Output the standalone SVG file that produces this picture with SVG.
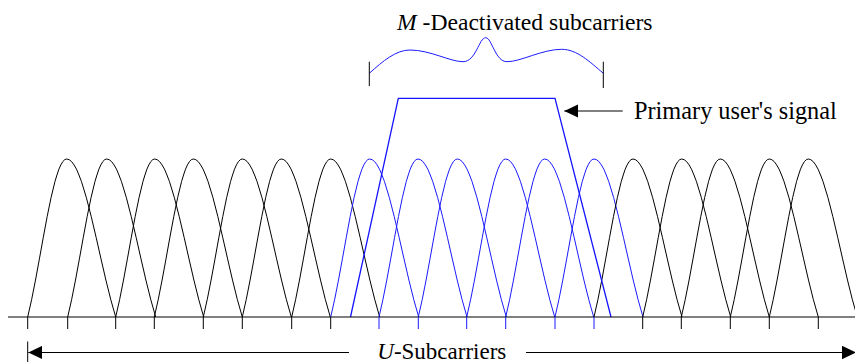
<svg xmlns="http://www.w3.org/2000/svg" width="855" height="363" viewBox="0 0 855 363">
<style>
.blk{fill:none;stroke:#000;stroke-width:1}
.blu{fill:none;stroke:#1a1aff;stroke-width:1}
.sig{fill:none;stroke:#1414ff;stroke-width:1.3}
.lbl{font-family:"Liberation Serif","Times New Roman",serif;font-size:23px;fill:#000}
.arr{fill:none;stroke:#000;stroke-width:1.2}
</style>
<defs>
<path id="lobe" d="M0,0 L3.9,-17.27 L7.8,-36.95 L11.7,-58.12 L15.6,-79.72 L19.5,-100.59 L23.4,-119.58 L27.3,-135.63 L29.25,-142 L31.2,-147.81 L33.15,-152.1 L35.1,-155.41 L37.05,-157.35 L39,-158 L41.45,-157.35 L43.9,-155.41 L46.35,-152.1 L48.8,-147.81 L51.25,-142 L53.7,-135.63 L58.6,-119.58 L63.5,-100.59 L68.4,-79.72 L73.3,-58.12 L78.2,-36.95 L83.1,-17.27 L88,0"/>
<marker id="ah" markerUnits="userSpaceOnUse" markerWidth="14" markerHeight="14" refX="14" refY="6.75" orient="auto" viewBox="0 0 14 13.5">
<path d="M0,0 L14,6.75 L0,13.5 z" fill="#000"/>
</marker>
</defs>
<g id="subcarriers-black-left" class="blk">
<use href="#lobe" x="27.7" y="317"/>
<use href="#lobe" x="67.7" y="317"/>
<use href="#lobe" x="115.7" y="317"/>
<use href="#lobe" x="154.3" y="317"/>
<use href="#lobe" x="203.3" y="317"/>
<use href="#lobe" x="242.3" y="317"/>
<use href="#lobe" x="291.7" y="317"/>
</g>
<g id="subcarriers-deactivated" class="blu">
<use href="#lobe" x="330.7" y="317"/>
<use href="#lobe" x="379" y="317"/>
<use href="#lobe" x="418.3" y="317"/>
<use href="#lobe" x="466.7" y="317"/>
<use href="#lobe" x="505.7" y="317"/>
<use href="#lobe" x="555" y="317"/>
</g>
<g id="subcarriers-black-right" class="blk">
<use href="#lobe" x="594" y="317"/>
<use href="#lobe" x="642.7" y="317"/>
<use href="#lobe" x="681.3" y="317"/>
<use href="#lobe" x="730.3" y="317"/>
<use href="#lobe" x="769.3" y="317"/>
</g>
<g id="primary-signal">
<path class="sig" d="M350.5,317 L398.3,98.3 L555,98.3 L611,317"/>
</g>
<g id="axis" class="blk">
<line x1="8" y1="317" x2="855" y2="317"/>
<path d="M27.7,317V329 M67.7,317V329 M115.7,317V329 M154.3,317V329 M203.3,317V329 M242.3,317V329 M291.7,317V329 M330.7,317V329 M642.7,317V329 M681.3,317V329 M730.3,317V329 M769.3,317V329 M818.3,317V329"/>
<path class="blu" d="M379,317V329 M418.3,317V329 M466.7,317V329 M505.7,317V329 M555,317V329 M594,317V329"/>
</g>
<g id="brace">
<path class="blu" d="M369.3,73.3 C383,61 396,50 410,50 C430,50 450,61.7 463,61.7 C476,61.7 479,37.7 485.7,37.7 C492,37.7 495,61.7 507,61.7 C521,61.7 542,49.3 561.7,49.3 C577,49.3 590,62 603.3,73.3"/>
<path class="blk" d="M369.3,61.7V86 M603.3,61.7V88"/>
</g>
<g id="connectors">
<line class="arr" x1="622.7" y1="111" x2="564.3" y2="111" marker-end="url(#ah)"/>
<line class="arr" x1="349" y1="352.5" x2="28.3" y2="352.5" marker-end="url(#ah)"/>
<line class="arr" x1="526" y1="352.5" x2="856" y2="352.5" marker-end="url(#ah)"/>
<line class="blk" x1="27.7" y1="341.5" x2="27.7" y2="362"/>
</g>
<g id="labels">
<text class="lbl" x="397" y="30" style="font-size:23.6px"><tspan font-style="italic">M</tspan> -Deactivated subcarriers</text>
<text class="lbl" x="634" y="119" style="font-size:24.3px">Primary user's signal</text>
<text class="lbl" x="377.3" y="359"><tspan font-style="italic">U</tspan>-Subcarriers</text>
</g>
</svg>
